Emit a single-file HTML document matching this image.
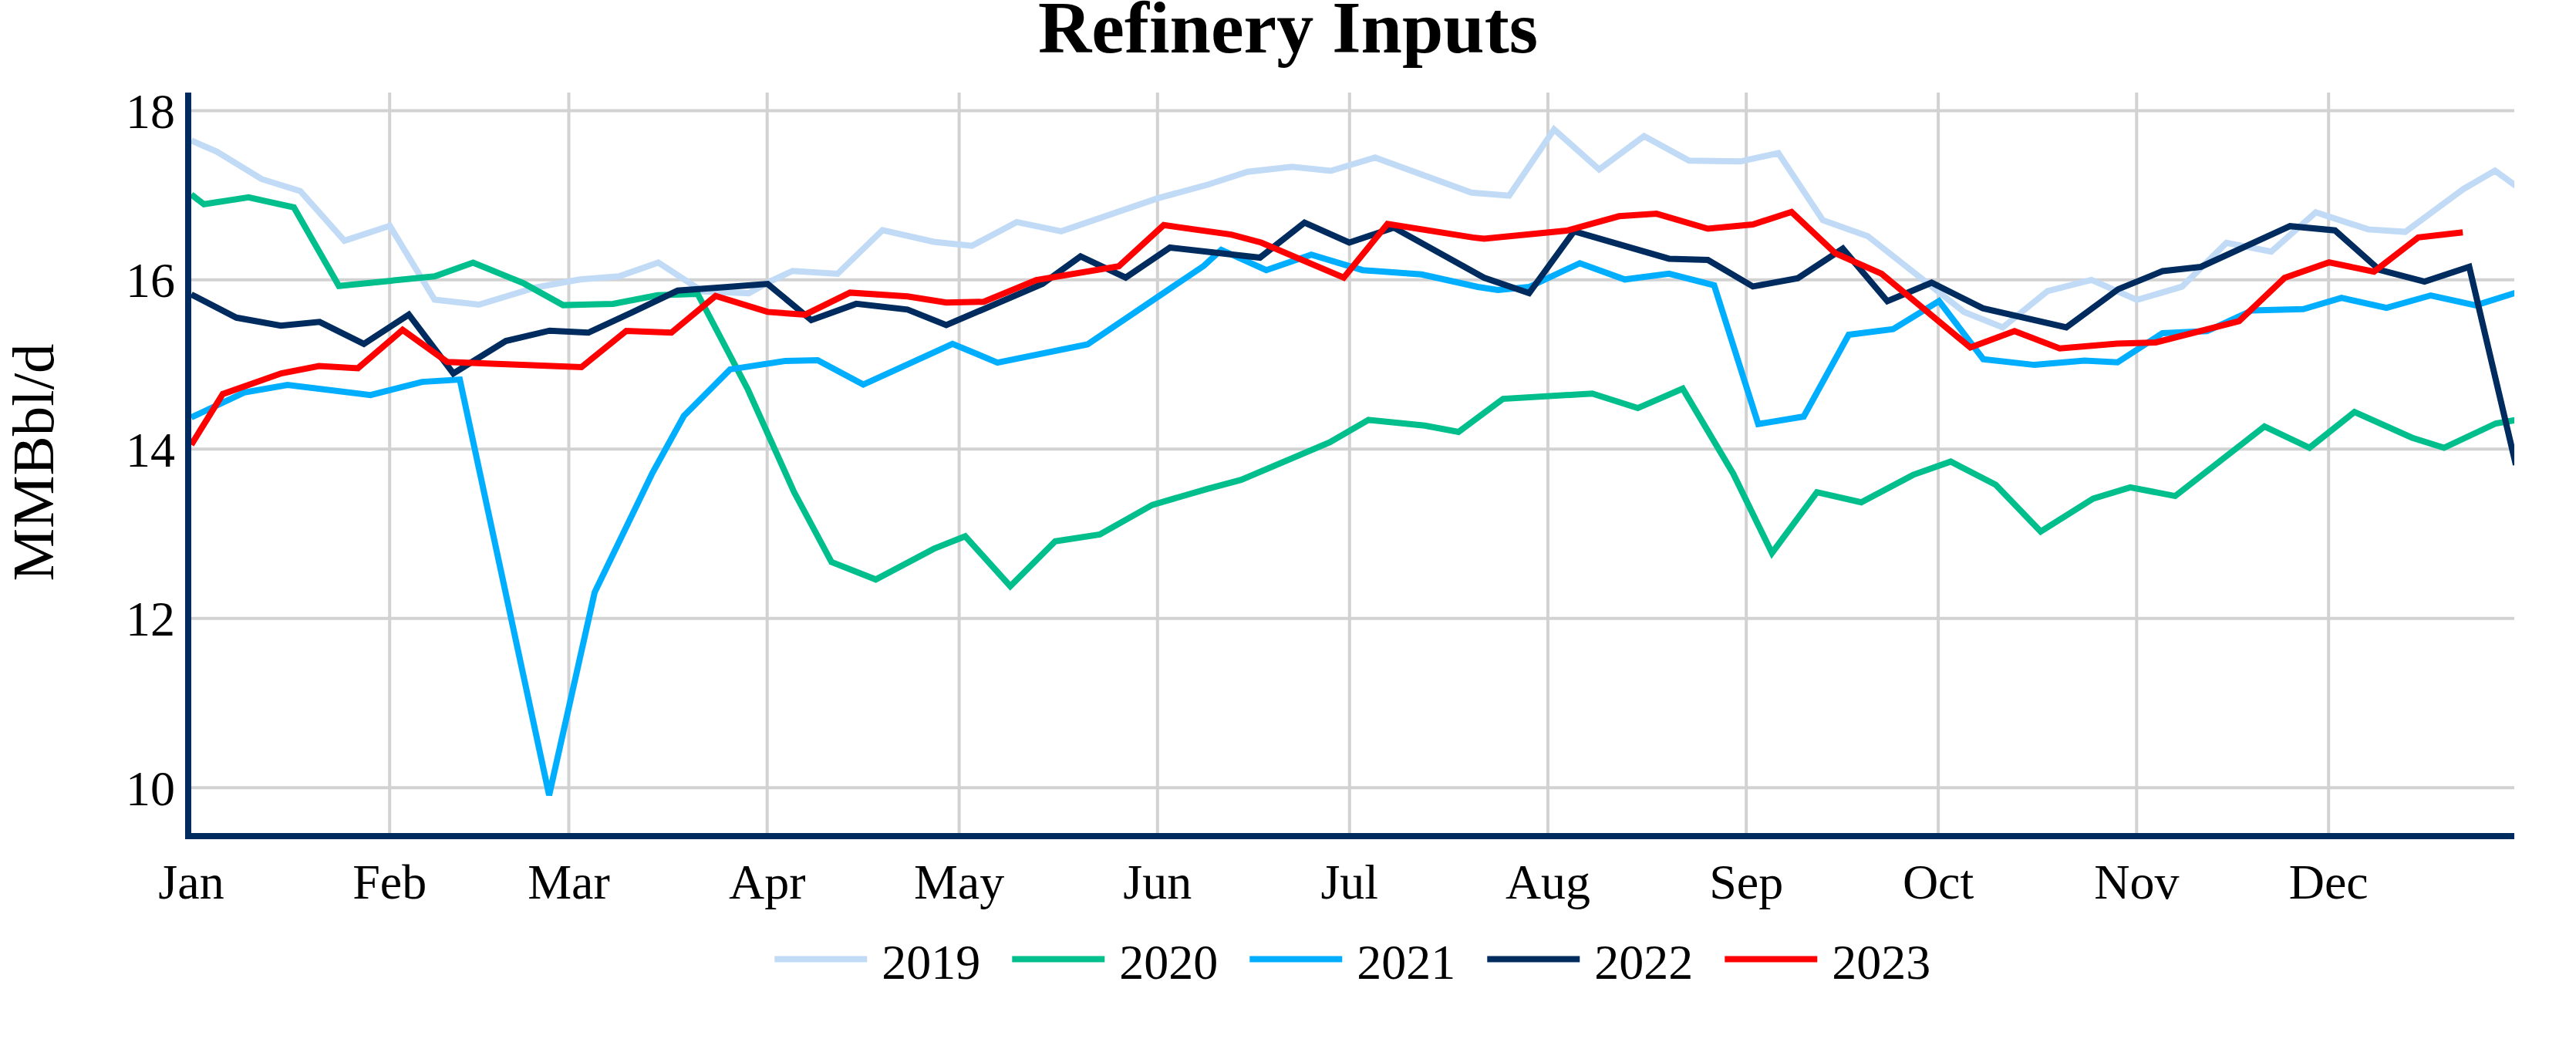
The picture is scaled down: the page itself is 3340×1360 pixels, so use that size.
<!DOCTYPE html>
<html lang="en"><head><meta charset="utf-8"><title>Refinery Inputs</title>
<style>html,body{margin:0;padding:0;background:#fff}body{width:3340px;height:1360px;overflow:hidden}svg{display:block}</style>
</head><body>
<svg width="3340" height="1360" viewBox="0 0 3340 1360">
<rect width="3340" height="1360" fill="#fff"/>
<defs><clipPath id="plot"><rect x="248" y="120" width="3012" height="960"/></clipPath></defs>
<path d="M505.2 120V1080M737.5 120V1080M994.7 120V1080M1243.6 120V1080M1500.8 120V1080M1749.8 120V1080M2007.0 120V1080M2264.2 120V1080M2513.1 120V1080M2770.3 120V1080M3019.2 120V1080M248 1021.2H3260M248 801.7H3260M248 582.3H3260M248 362.8H3260M248 143.4H3260" stroke="#D2D2D2" stroke-width="4" fill="none"/>
<g clip-path="url(#plot)" fill="none" stroke-width="8">
<path d="M248 182.2L281.1 196.6L339.3 232.2L389.3 247.7L446.6 312.1L505.4 292.8L563.5 388.5L620.9 395.0L693.8 372.9L752.2 362.2L802.4 358.3L853.6 340.5L911.0 377.8L971.0 380.1L998.5 364.8L1027.7 351.2L1085.9 355.0L1144.2 298.3L1210.7 313.5L1260.0 318.7L1318.3 287.9L1376.0 299.9L1500.8 257.1L1567.3 239.0L1617.5 222.8L1675.2 216.3L1725.4 221.5L1782.8 204.3L1908.0 249.8L1956.7 253.7L2015.0 167.8L2073.4 219.7L2131.7 176.6L2190.0 208.3L2256.5 209.3L2305.8 198.6L2363.5 285.5L2421.8 306.2L2546.6 404.5L2596.7 424.5L2654.8 377.5L2711.8 362.9L2770.8 388.8L2829.1 371.6L2886.8 314.9L2944.9 326.2L3002.6 275.3L3070.6 297.4L3118.6 300.6L3193.8 245.2L3235.0 221.2L3284 257.0" stroke="#C1DBF7"/>
<path d="M248 252.2L264.4 264.8L322.2 255.9L381.0 268.8L439.4 370.7L563.5 358.3L613.4 340.5L679.2 367.4L730.1 395.6L794.9 394.0L852.6 382.7L904.5 381.0L969.3 504.2L1029.5 637.8L1078.1 728.6L1135.5 751.3L1211.0 711.4L1251.5 695.2L1309.9 760.0L1368.2 701.7L1425.9 692.9L1494.0 654.6L1565.3 633.8L1609.1 622.2L1724.1 573.5L1774.4 544.4L1847.3 551.8L1891.1 559.9L1948.8 517.1L2064.5 510.3L2123.5 529.1L2181.8 503.9L2247.2 613.9L2297.5 717.0L2355.8 638.2L2413.2 651.2L2480.6 615.6L2529.3 598.4L2587.6 628.5L2645.9 689.1L2714.0 646.4L2762.0 631.8L2820.3 643.1L2936.1 552.9L2994.5 580.5L3052.8 534.1L3127.4 567.5L3168.9 580.5L3236.0 549.0L3284 540.7" stroke="#00BF8C"/>
<path d="M248 541.2L316.6 508.9L372.8 499.0L480.4 512.2L547.3 495.1L596.2 492.1L712.0 1031.0L771.0 768.0L846.0 613.0L886.7 539.2L946.6 478.9L1018.0 467.9L1060.1 466.9L1119.3 498.6L1235.0 445.8L1293.4 470.1L1410.0 446.5L1560.8 344.7L1583.5 323.9L1641.8 350.2L1700.2 330.1L1766.6 350.2L1843.2 355.8L1916.1 372.0L1942.1 375.9L1982.6 372.0L2048.4 341.2L2106.7 362.3L2164.1 354.9L2222.5 369.8L2279.7 549.8L2338.7 540.0L2397.0 434.0L2454.7 426.6L2514.1 390.4L2571.5 465.6L2637.9 473.1L2702.7 467.6L2745.5 469.8L2803.9 431.9L2861.6 429.3L2919.9 402.4L2986.4 400.8L3036.0 386.2L3094.3 399.2L3151.7 383.0L3210.0 395.9L3284 372.5" stroke="#00AEFF"/>
<path d="M248 381.7L306.5 411.8L364.1 422.2L414.4 417.3L471.8 445.9L530.1 407.9L587.8 484.1L655.9 442.0L712.6 428.7L762.9 431.3L820.9 404.4L878.6 376.8L936.9 372.6L995.3 368.1L1051.9 415.0L1110.2 393.9L1176.7 401.4L1226.9 421.5L1351.7 368.0L1401.0 332.4L1459.6 359.9L1517.0 321.0L1633.7 334.0L1691.4 288.6L1749.4 314.5L1807.1 295.1L1924.2 360.0L1982.6 380.1L2040.9 299.8L2164.1 335.4L2214.4 337.0L2272.7 371.4L2331.1 360.7L2389.4 322.4L2447.1 390.5L2504.5 366.5L2570.9 399.6L2679.1 424.5L2746.5 374.9L2803.9 351.5L2853.5 346.0L2969.2 293.2L3027.5 298.7L3085.2 349.9L3143.6 365.1L3201.6 346.0L3262.0 602.7" stroke="#002B5E"/>
<path d="M248 576.6L288.8 510.9L364.7 484.0L413.6 474.5L464.1 477.4L522.0 427.7L579.9 469.3L753.8 476.0L812.1 429.0L870.5 431.3L927.8 383.6L995.3 404.4L1043.9 407.9L1102.1 379.4L1176.7 384.2L1226.9 392.3L1275.5 391.3L1343.6 363.1L1450.6 345.3L1508.9 291.8L1596.4 304.1L1635.3 314.5L1742.3 359.9L1799.0 290.2L1909.7 307.9L1924.2 309.5L2031.2 299.1L2099.3 280.3L2147.9 277.1L2214.4 296.5L2272.7 291.0L2322.9 274.8L2379.7 328.3L2439.6 354.9L2554.7 450.5L2612.0 429.3L2670.6 451.7L2744.9 445.5L2795.1 443.9L2903.1 416.4L2962.1 360.3L3019.7 340.2L3078.1 352.2L3135.5 307.8L3193.2 301.3" stroke="#FF0000"/>
</g>
<path d="M244 120V1088M240 1084H3260" stroke="#002B5E" stroke-width="8" fill="none"/>
<g font-family="'Liberation Serif', 'Times New Roman', serif" fill="#000">
<text x="1670" y="67.5" font-size="96" font-weight="bold" text-anchor="middle">Refinery Inputs</text>
<g font-size="64" text-anchor="end">
<text x="227" y="1043.6">10</text>
<text x="227" y="824.1">12</text>
<text x="227" y="604.7">14</text>
<text x="227" y="385.2">16</text>
<text x="227" y="165.8">18</text>
</g>
<g font-size="64" text-anchor="middle">
<text x="248.0" y="1164.7">Jan</text>
<text x="505.2" y="1164.7">Feb</text>
<text x="737.5" y="1164.7">Mar</text>
<text x="994.7" y="1164.7">Apr</text>
<text x="1243.6" y="1164.7">May</text>
<text x="1500.8" y="1164.7">Jun</text>
<text x="1749.8" y="1164.7">Jul</text>
<text x="2007.0" y="1164.7">Aug</text>
<text x="2264.2" y="1164.7">Sep</text>
<text x="2513.1" y="1164.7">Oct</text>
<text x="2770.3" y="1164.7">Nov</text>
<text x="3019.2" y="1164.7">Dec</text>
</g>
<text transform="translate(69.4,599.5) rotate(-90)" font-size="77" text-anchor="middle">MMBbl/d</text>
<g font-size="64">
<path d="M1004.3 1243.6H1124.3" stroke="#C1DBF7" stroke-width="8"/>
<text x="1143.3" y="1269.1">2019</text>
<path d="M1312.3 1243.6H1432.3" stroke="#00BF8C" stroke-width="8"/>
<text x="1451.3" y="1269.1">2020</text>
<path d="M1620.3 1243.6H1740.3" stroke="#00AEFF" stroke-width="8"/>
<text x="1759.3" y="1269.1">2021</text>
<path d="M1928.3 1243.6H2048.3" stroke="#002B5E" stroke-width="8"/>
<text x="2067.3" y="1269.1">2022</text>
<path d="M2236.3 1243.6H2356.3" stroke="#FF0000" stroke-width="8"/>
<text x="2375.3" y="1269.1">2023</text>
</g>
</g>
</svg>
</body></html>
